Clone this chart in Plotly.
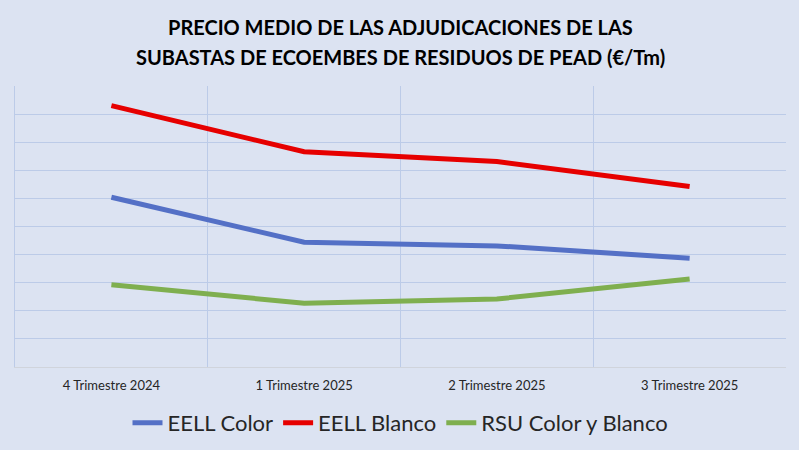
import plotly.graph_objects as go

# trimestres
categorias = ["4 Trimestre 2024", "1 Trimestre 2025", "2 Trimestre 2025", "3 Trimestre 2025"]

# precio medio (€/Tm) (sin etiquetas en el eje)
eell_color = [604, 444, 431, 387]
eell_blanco = [930, 766, 731, 642]
rsu_color_blanco = [293, 227, 242, 313]

titulo = ["PRECIO MEDIO DE LAS ADJUDICACIONES DE LAS",
          "SUBASTAS DE ECOEMBES DE RESIDUOS DE PEAD (€/Tm)"]

fondo = "#DCE3F2"
rejilla = "#BCCBE8"

fig = go.Figure()
fig.add_trace(go.Scatter(x=categorias, y=eell_color, mode="lines", name="EELL Color",
                         line=dict(color="#5470C6", width=5)))
fig.add_trace(go.Scatter(x=categorias, y=eell_blanco, mode="lines", name="EELL Blanco",
                         line=dict(color="#E60000", width=5)))
fig.add_trace(go.Scatter(x=categorias, y=rsu_color_blanco, mode="lines", name="RSU Color y Blanco",
                         line=dict(color="#7FAF4F", width=5)))

# titulo en dos lineas, colocado a mano
for texto, yy in zip(titulo, [1.21, 1.103]):
    fig.add_annotation(text="<b>" + texto + "</b>", xref="paper", yref="paper",
                       x=0.5, y=yy, xanchor="center", yanchor="middle", showarrow=False,
                       font=dict(size=20, color="#000000", family="Lato"))

fig.update_layout(
    width=799, height=450,
    paper_bgcolor=fondo, plot_bgcolor=fondo,
    margin=dict(l=15, r=13, t=86, b=83, autoexpand=False),
    font=dict(family="Lato", color="#262626"),
    showlegend=True,
    legend=dict(orientation="h", x=0.5, xanchor="center", y=-0.199, yanchor="middle",
                font=dict(size=22, color="#262626"), itemwidth=30, tracegroupgap=0),
)
fig.update_xaxes(type="category", tickson="boundaries", range=[-0.5, 3.5],
                 showgrid=True, gridcolor=rejilla, gridwidth=1,
                 showline=True, linecolor="#D0D4DC", ticks="", ticklabelstandoff=6,
                 tickfont=dict(size=13, color="#262626"), fixedrange=True)
fig.update_yaxes(range=[0, 1000], dtick=100, showgrid=True, gridcolor=rejilla, gridwidth=1,
                 showticklabels=False, zeroline=False, showline=True, linecolor=rejilla,
                 mirror=False, fixedrange=True)

# quitar el margen por defecto del body para que la figura ocupe la ventana
fig.write_html("out.html", config={"displayModeBar": False},
               post_script="document.body.style.margin='0';document.body.style.background='#DCE3F2';")
